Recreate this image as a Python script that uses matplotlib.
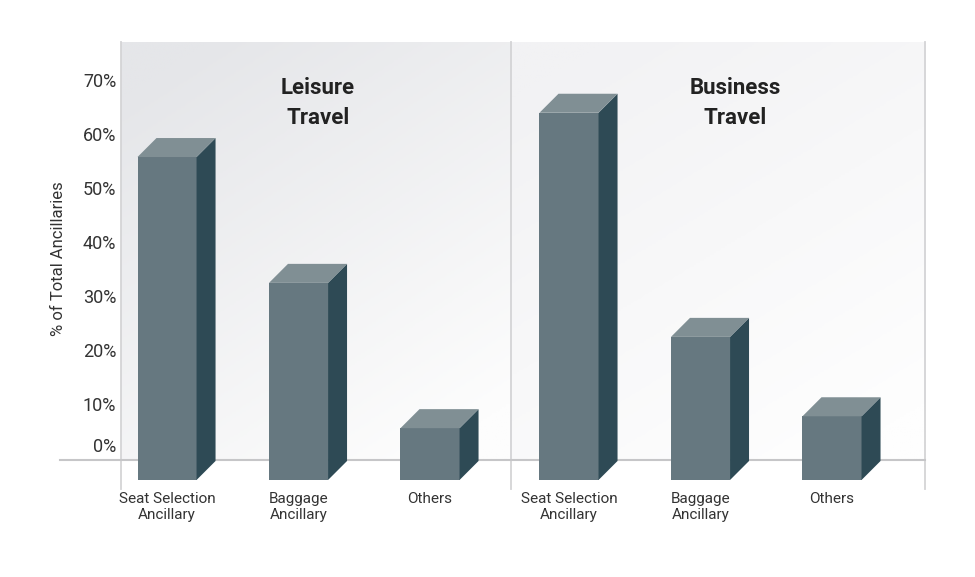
import numpy as np
import matplotlib.pyplot as plt
from matplotlib.patches import Polygon
from matplotlib.colors import LinearSegmentedColormap

plt.rcParams['font.family'] = ['Roboto', 'DejaVu Sans']

# data
groups = ['Leisure\nTravel', 'Business\nTravel']
categories = ['Seat Selection\nAncillary', 'Baggage\nAncillary', 'Others']
leisure = [56.1, 32.8, 5.9]
business = [64.3, 22.8, 8.1]
yticks = [0, 10, 20, 30, 40, 50, 60, 70]

front_c = '#667880'
side_c = '#2e4a55'
top_c = '#808f94'

fig = plt.figure(figsize=(9.75, 5.77), dpi=100)
ax = fig.add_axes([0.1241, 0.1594, 0.8246, 0.7678])
xlim = (-0.35, 5.764)
ylim = (-4.63, 77.4)

# panel backgrounds (darker top-left, fading to white bottom-right)
yy, xx = np.mgrid[0:1:200j, 0:1:200j]
grad = np.clip(0.45 * (1 - xx) + 0.75 * yy - 0.1, 0, 1)
cm_l = LinearSegmentedColormap.from_list('l', ['#fdfdfd', '#e5e6e9'])
cm_r = LinearSegmentedColormap.from_list('r', ['#fefefe', '#f2f2f4'])
split = 0.485
y0 = (0 - ylim[0]) / (ylim[1] - ylim[0])
ax.imshow(grad, cmap=cm_l, vmin=0, vmax=1, extent=[0, split, y0, 1],
          transform=ax.transAxes, aspect='auto', origin='lower', zorder=0)
ax.imshow(grad, cmap=cm_r, vmin=0, vmax=1, extent=[split, 1, y0, 1],
          transform=ax.transAxes, aspect='auto', origin='lower', zorder=0)
ax.set_xlim(*xlim)
ax.set_ylim(*ylim)

for xa in [0, split, 1]:
    ax.axvline(xlim[0] + xa * (xlim[1] - xlim[0]), ymin=-0.01, ymax=1,
               color='#d4d4d6', lw=1.3, clip_on=False, zorder=1)
ax.axhline(0, xmin=-0.076, xmax=1, color='#c6c6c8', lw=1.5, clip_on=False, zorder=1)

# 3d bars
gap = 0.057
x = np.array([0, 1, 2, 3 + gap, 4 + gap, 5 + gap])
vals = leisure + business
w = 0.449
dx, dy = 0.1445, 3.52
base = -3.7
ax.bar(x, np.array(vals) - base, bottom=base, width=w, color=front_c, zorder=3)
for xi, v in zip(x, vals):
    r, l = xi + w / 2, xi - w / 2
    ax.add_patch(Polygon([(r, base), (r + dx, base + dy), (r + dx, v + dy), (r, v)],
                         closed=True, color=side_c, zorder=3, lw=0))
    ax.add_patch(Polygon([(l, v), (l + dx, v + dy), (r + dx, v + dy), (r, v)],
                         closed=True, color=top_c, zorder=3, lw=0))

# category labels
ax.set_xticks(x)
ax.set_xticklabels(categories * 2, fontsize=11, color='#333333', linespacing=1.2)
ax.tick_params(axis='x', length=0, pad=5)
ax.set_yticks([])

# y tick labels
for t in yticks:
    off = 2.4 if t == 0 else 0
    ax.text(-0.006, t + off, f'{t}%', transform=ax.get_yaxis_transform(),
            ha='right', va='center', fontsize=13, color='#333333')

ax.text(-0.078, 0.51, '% of Total Ancillaries', transform=ax.transAxes, rotation=90,
        ha='center', va='center', fontsize=12, color='#333333')

# panel titles
for xa, g in zip([0.245, 0.764], groups):
    ax.text(xa, 0.862, g, transform=ax.transAxes, ha='center', va='center',
            fontsize=16, fontweight='bold', color='#222222', linespacing=1.5)

for s in ax.spines.values():
    s.set_visible(False)

fig.savefig('out.png', dpi=100, facecolor='white')
